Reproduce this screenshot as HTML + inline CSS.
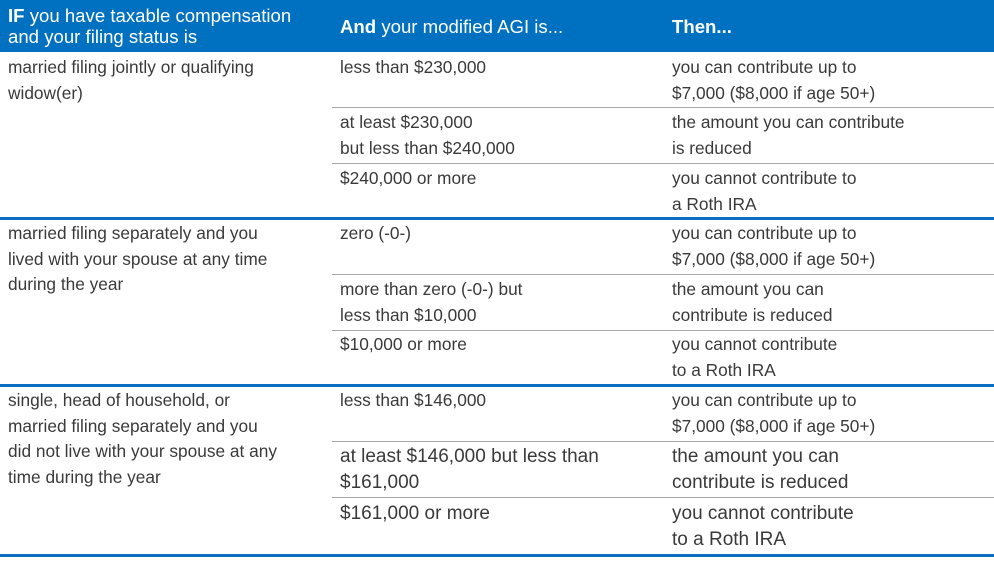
<!DOCTYPE html>
<html><head><meta charset="utf-8"><style>
body{margin:0;width:994px;height:562px;background:#fff;position:relative;overflow:hidden;font-family:"Liberation Sans",Arial,sans-serif;}
.h{position:absolute;left:0;top:0;width:994px;height:52px;background:#0070c0;}
.ht{position:absolute;color:#fff;font-size:18.6px;line-height:21px;white-space:nowrap;}
.t{position:absolute;color:#3a3a3a;font-size:17.3px;line-height:25.5px;white-space:nowrap;}
.b{position:absolute;left:0;width:994px;height:3px;background:#0a6fc2;}
.g{position:absolute;left:332px;width:662px;height:1px;background:#a8a8a8;}
.l{font-size:19px;}
</style></head><body>
<div class="h"></div>
<div class="ht" style="left:8px;top:5px"><b>IF</b> you have taxable compensation<br>and your filing status is</div>
<div class="ht" style="left:340px;top:16px"><b>And</b> your modified AGI is...</div>
<div class="ht" style="left:672px;top:16px"><b>Then...</b></div>

<div class="t" style="left:8px;top:55px">married filing jointly or qualifying<br>widow(er)</div>
<div class="t" style="left:340px;top:55px">less than $230,000</div>
<div class="t" style="left:672px;top:55px">you can contribute up to<br>$7,000 ($8,000 if age 50+)</div>
<div class="g" style="top:107px"></div>
<div class="t" style="left:340px;top:110px">at least $230,000<br>but less than $240,000</div>
<div class="t" style="left:672px;top:110px">the amount you can contribute<br>is reduced</div>
<div class="g" style="top:163px"></div>
<div class="t" style="left:340px;top:166px">$240,000 or more</div>
<div class="t" style="left:672px;top:166px">you cannot contribute to<br>a Roth IRA</div>
<div class="b" style="top:217px"></div>

<div class="t" style="left:8px;top:221px">married filing separately and you<br>lived with your spouse at any time<br>during the year</div>
<div class="t" style="left:340px;top:221px">zero (-0-)</div>
<div class="t" style="left:672px;top:221px">you can contribute up to<br>$7,000 ($8,000 if age 50+)</div>
<div class="g" style="top:274px"></div>
<div class="t" style="left:340px;top:277px">more than zero (-0-) but<br>less than $10,000</div>
<div class="t" style="left:672px;top:277px">the amount you can<br>contribute is reduced</div>
<div class="g" style="top:330px"></div>
<div class="t" style="left:340px;top:332px">$10,000 or more</div>
<div class="t" style="left:672px;top:332px">you cannot contribute<br>to a Roth IRA</div>
<div class="b" style="top:384px"></div>

<div class="t" style="left:8px;top:388px">single, head of household, or<br>married filing separately and you<br>did not live with your spouse at any<br>time during the year</div>
<div class="t" style="left:340px;top:388px">less than $146,000</div>
<div class="t" style="left:672px;top:388px">you can contribute up to<br>$7,000 ($8,000 if age 50+)</div>
<div class="g" style="top:441px"></div>
<div class="t l" style="left:340px;top:444px">at least $146,000 but less than<br>$161,000</div>
<div class="t l" style="left:672px;top:444px">the amount you can<br>contribute is reduced</div>
<div class="g" style="top:497px"></div>
<div class="t l" style="left:340px;top:501px">$161,000 or more</div>
<div class="t l" style="left:672px;top:501px">you cannot contribute<br>to a Roth IRA</div>
<div class="b" style="top:554px"></div>
</body></html>
